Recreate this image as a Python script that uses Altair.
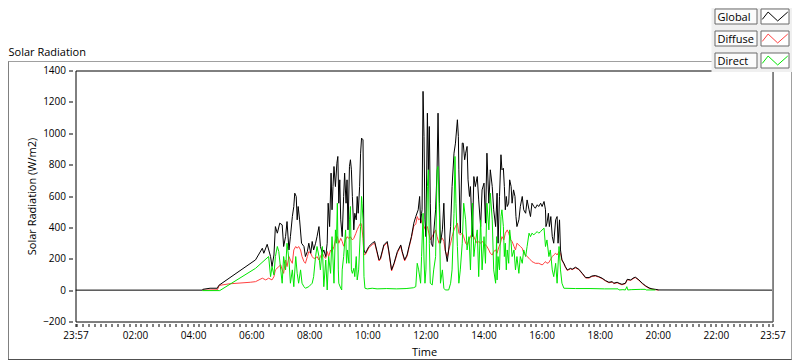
import json
import altair as alt
import pandas as pd

# ---------------- data (time in minutes after 00:00, value in W/m2) ----------------
SERIES = ["Global", "Diffuse", "Direct"]
COLORS = ["#000000", "#ff4040", "#00e600"]

GLOBAL = [(-3, 0), (259, 0), (260, 5), (275, 12), (290, 12), (293, 30), (369, 193), (383, 267), (386, 235),
          (393, 292), (400, 214), (403, 150), (407, 224), (410, 405), (414, 363), (419, 427), (424, 416),
          (427, 278), (431, 341), (434, 437), (438, 256), (441, 341), (445, 469), (448, 533), (450, 618),
          (453, 597), (455, 448), (457, 533), (460, 448), (464, 299), (469, 278), (472, 214), (476, 246),
          (479, 299), (483, 235), (486, 310), (489, 256), (493, 299), (496, 341), (500, 405), (503, 278),
          (507, 235), (510, 256), (514, 214), (517, 299), (519, 554), (522, 405), (525, 746), (527, 512),
          (529, 660), (531, 788), (534, 660), (537, 809), (539, 852), (541, 554), (543, 703), (545, 448),
          (548, 341), (551, 597), (553, 746), (556, 554), (558, 703), (560, 384), (563, 788), (565, 831),
          (567, 767), (569, 597), (572, 384), (574, 490), (577, 448), (579, 597), (581, 490), (584, 660),
          (586, 873), (588, 969), (591, 958), (593, 256), (596, 235), (603, 278), (610, 299), (615, 310),
          (620, 246), (624, 193), (627, 203), (634, 288), (641, 310), (644, 256), (650, 129), (655, 171),
          (662, 246), (669, 288), (672, 246), (677, 193), (682, 224), (686, 278), (691, 341), (696, 427),
          (700, 469), (705, 512), (708, 597), (710, 427), (712, 490), (713, 512), (715, 1267), (717, 980),
          (719, 448), (721, 341), (724, 1128), (726, 767), (728, 1043), (730, 554), (732, 299), (735, 278),
          (737, 363), (741, 512), (744, 767), (746, 1128), (749, 554), (751, 299), (755, 384), (758, 554),
          (761, 256), (765, 182), (768, 256), (772, 405), (775, 660), (779, 873), (782, 937), (786, 1086),
          (788, 980), (789, 767), (792, 363), (796, 937), (798, 937), (801, 831), (803, 873), (806, 916),
          (808, 703), (811, 597), (813, 660), (817, 341), (820, 724), (823, 660), (827, 724), (830, 575),
          (834, 405), (837, 639), (841, 682), (844, 427), (847, 873), (851, 554), (854, 767), (858, 660),
          (861, 512), (865, 405), (868, 618), (870, 299), (873, 597), (876, 863), (878, 767), (881, 777),
          (883, 660), (885, 512), (887, 597), (889, 533), (892, 554), (894, 703), (897, 660), (899, 554),
          (902, 639), (905, 597), (907, 469), (909, 405), (913, 448), (916, 533), (920, 597), (923, 512),
          (927, 490), (930, 575), (934, 512), (937, 469), (940, 554), (944, 533), (947, 522), (951, 544),
          (954, 533), (958, 554), (961, 533), (965, 565), (968, 512), (969, 405), (971, 427), (974, 490),
          (976, 405), (979, 469), (982, 341), (985, 299), (989, 448), (992, 469), (994, 299), (997, 448),
          (999, 256), (1002, 193), (1006, 171), (1009, 150), (1013, 129), (1016, 133), (1020, 139),
          (1023, 133), (1030, 146), (1037, 133), (1044, 107), (1051, 80), (1058, 80), (1064, 90), (1071, 93),
          (1078, 86), (1085, 76), (1092, 61), (1099, 50), (1106, 54), (1109, 44), (1116, 50), (1120, 44),
          (1126, 37), (1133, 44), (1137, 69), (1144, 65), (1151, 80), (1154, 82), (1161, 65), (1168, 44),
          (1175, 27), (1182, 14), (1188, 8), (1195, 5), (1202, 1), (1437, 0)]

DIFFUSE = [(259, 0), (290, 2), (294, 30), (314, 40), (358, 50), (369, 54), (383, 76), (390, 65), (396, 76),
           (403, 65), (407, 86), (410, 129), (417, 150), (421, 161), (424, 129), (427, 107), (431, 192),
           (434, 150), (438, 214), (441, 192), (445, 171), (448, 256), (452, 278), (455, 267), (458, 278),
           (462, 256), (465, 214), (469, 182), (472, 171), (476, 214), (479, 246), (483, 235), (486, 214),
           (489, 203), (493, 203), (496, 214), (500, 192), (503, 214), (507, 235), (510, 214), (514, 203),
           (517, 246), (520, 214), (524, 256), (527, 246), (531, 278), (534, 320), (538, 341), (541, 299),
           (545, 330), (548, 310), (551, 280), (555, 320), (558, 340), (562, 330), (565, 340), (569, 320),
           (572, 330), (576, 360), (579, 385), (582, 405), (586, 427), (588, 420), (591, 330), (593, 225),
           (596, 228), (603, 270), (610, 290), (615, 300), (620, 238), (624, 186), (627, 195), (634, 280),
           (641, 302), (644, 248), (650, 122), (655, 164), (662, 238), (669, 280), (672, 238), (677, 186),
           (682, 216), (686, 270), (691, 333), (696, 410), (700, 420), (703, 469), (706, 448), (710, 458),
           (713, 427), (717, 405), (720, 384), (724, 405), (727, 363), (730, 320), (734, 341), (741, 384),
           (744, 341), (748, 299), (751, 320), (755, 331), (758, 310), (761, 250), (765, 214), (768, 256),
           (772, 299), (775, 341), (779, 384), (782, 405), (786, 427), (789, 363), (792, 352), (796, 363),
           (799, 341), (803, 299), (806, 288), (810, 320), (813, 341), (817, 363), (820, 341), (823, 320),
           (827, 299), (830, 310), (834, 299), (837, 310), (841, 299), (844, 288), (847, 278), (851, 256),
           (854, 235), (858, 224), (861, 246), (865, 256), (868, 235), (872, 278), (875, 299), (878, 341),
           (882, 320), (885, 363), (889, 384), (892, 363), (896, 320), (899, 310), (903, 278), (906, 256),
           (909, 299), (913, 288), (916, 278), (920, 267), (923, 235), (927, 224), (930, 214), (934, 203),
           (937, 193), (940, 182), (944, 176), (947, 171), (954, 171), (961, 161), (965, 171), (968, 182),
           (971, 171), (975, 176), (978, 193), (982, 214), (985, 224), (989, 235), (992, 224), (996, 246),
           (999, 235), (1002, 190), (1006, 168), (1009, 147), (1013, 125), (1016, 130), (1020, 136),
           (1023, 130), (1030, 142), (1037, 130), (1044, 104), (1051, 77), (1058, 77), (1064, 87), (1071, 90),
           (1078, 83), (1085, 73), (1092, 58), (1099, 47), (1106, 51), (1109, 41), (1116, 47), (1120, 41),
           (1126, 34), (1133, 41), (1137, 66), (1144, 62), (1151, 77), (1154, 79), (1161, 62), (1168, 41),
           (1175, 24), (1182, 12), (1188, 6), (1195, 3), (1202, 0)]

DIRECT = [(259, -3), (295, -3), (369, 139), (396, 214), (400, 86), (403, 150), (407, 97), (410, 214),
          (414, 278), (417, 246), (421, 129), (424, 44), (427, 214), (431, 129), (434, 299), (438, 192),
          (441, 44), (445, 129), (448, 22), (452, 214), (455, 107), (458, 44), (462, 129), (465, 44),
          (469, 22), (472, 12), (479, 22), (486, 44), (489, 86), (493, 214), (496, 278), (500, 214),
          (503, 129), (507, 278), (510, 22), (514, 192), (517, 1), (520, 214), (524, 107), (527, 341),
          (531, 44), (534, 384), (536, 299), (538, 554), (540, 129), (541, 44), (545, 12), (547, 1),
          (548, 129), (551, 214), (555, 384), (557, 171), (559, 256), (562, 171), (563, 448), (565, 533),
          (567, 129), (569, 107), (572, 139), (574, 86), (577, 214), (579, 65), (582, 129), (586, 405),
          (588, 597), (589, 554), (591, 448), (593, 86), (595, 12), (600, 8), (610, 12), (620, 8), (640, 10),
          (660, 8), (680, 10), (695, 15), (700, 22), (703, 171), (706, 129), (710, 44), (712, 214),
          (715, 490), (717, 192), (719, 44), (721, 129), (724, 660), (726, 767), (728, 299), (730, 44),
          (734, 33), (737, 129), (741, 214), (744, 767), (746, 788), (749, 469), (751, 44), (755, 129),
          (758, 12), (761, 1), (768, 1), (772, 44), (775, 129), (779, 490), (781, 852), (783, 554), (786, 278),
          (789, 44), (792, 129), (796, 299), (799, 554), (803, 448), (806, 256), (810, 341), (813, 129),
          (817, 554), (820, 214), (823, 299), (827, 384), (830, 86), (834, 448), (837, 129), (841, 341),
          (844, 171), (847, 554), (851, 384), (854, 618), (858, 448), (861, 129), (865, 44), (867, 341),
          (868, 65), (870, 214), (873, 129), (876, 469), (878, 512), (881, 405), (883, 214), (885, 299),
          (887, 129), (889, 256), (892, 171), (894, 384), (897, 299), (899, 214), (903, 256), (906, 129),
          (909, 214), (913, 107), (916, 214), (920, 171), (923, 256), (927, 214), (930, 278), (934, 363),
          (937, 341), (940, 363), (944, 352), (947, 363), (951, 373), (954, 363), (958, 373), (961, 384),
          (965, 395), (968, 278), (971, 320), (975, 214), (978, 256), (982, 129), (985, 86), (989, 171),
          (992, 44), (996, 278), (999, 129), (1002, 44), (1006, 12), (1030, 10), (1060, 10), (1090, 8),
          (1118, 8), (1120, 1), (1128, 3), (1133, 1), (1136, 22), (1138, 1), (1145, 3), (1165, 5), (1174, 5),
          (1176, 1), (1195, 1)]

X_LABEL_POS = [-3, 120, 240, 360, 480, 600, 720, 840, 960, 1080, 1200, 1320, 1437]
X_LABELS = ["23:57", "02:00", "04:00", "06:00", "08:00", "10:00", "12:00", "14:00", "16:00",
            "18:00", "20:00", "22:00", "23:57"]
Y_TICKS = [-200, 0, 200, 400, 600, 800, 1000, 1200, 1400]

# ---------------- layout / style ----------------
W, H = 697, 251
FONT = "Open Sans"
x_scale = alt.Scale(domain=[-3, 1437], nice=False, zero=False)
y_scale = alt.Scale(domain=[-200, 1400], nice=False, zero=False)
tick_vals = [-3] + list(range(0, 1437, 12)) + [1437]
label_expr = ("indexof(%s, datum.value) >= 0 ? %s[indexof(%s, datum.value)] : ''"
              % (json.dumps(X_LABEL_POS), json.dumps(X_LABELS), json.dumps(X_LABEL_POS)))

x_axis = alt.Axis(values=tick_vals, labelExpr=label_expr, title="Time", tickSize=3, offset=2,
                  domain=False, grid=False, labelPadding=4, labelOverlap=False, labelFlush=False,
                  labelFont=FONT, labelFontSize=10, labelColor="#000000", tickColor="#000000",
                  titleFont=FONT, titleFontSize=11, titleFontWeight="normal", titleColor="#000000",
                  titlePadding=6)
y_axis = alt.Axis(values=Y_TICKS, format="d", title="Solar Radiation (W/m2)", tickSize=4, offset=3,
                  domain=False, grid=False, labelPadding=3, labelFont=FONT, labelFontSize=10,
                  labelColor="#000000", tickColor="#000000", titleFont=FONT, titleFontSize=11,
                  titleFontWeight="normal", titleColor="#000000", titlePadding=5)


def line_layer(name, color, pts):
    df = pd.DataFrame(pts, columns=["t", "v"])
    df["series"] = name
    return alt.Chart(df).mark_line(color=color, strokeWidth=1, clip=True).encode(
        x=alt.X("t:Q", scale=x_scale, axis=x_axis),
        y=alt.Y("v:Q", scale=y_scale, axis=y_axis),
    )


one = pd.DataFrame({"k": [0]})


def rect(x, x2, y, y2, fill, stroke=None):
    kw = dict(fill=fill, clip=False)
    if stroke:
        kw.update(stroke=stroke, strokeWidth=1)
    else:
        kw.update(strokeWidth=0)
    return alt.Chart(one).mark_rect(**kw).encode(
        x=alt.value(x), x2=alt.value(x2), y=alt.value(y), y2=alt.value(y2))


def rule(x, x2, y, y2, color):
    return alt.Chart(one).mark_rule(color=color, strokeWidth=1, clip=False).encode(
        x=alt.value(x), x2=alt.value(x2), y=alt.value(y), y2=alt.value(y2))


layers = []
# outer panel frame
layers.append(rule(-67.5, 640, -9, -9, "#a0a0a0"))
layers.append(rule(-67, -67, -9, 289, "#808080"))
layers.append(rule(-67.5, 716.5, 289, 289, "#505050"))
layers.append(rule(716, 716, 1, 289, "#a0a0a0"))

# data lines
layers.append(line_layer("Diffuse", COLORS[1], DIFFUSE))
layers.append(line_layer("Global", COLORS[0], GLOBAL))
layers.append(line_layer("Direct", COLORS[2], DIRECT))

# right edge of the plot frame (grey)
layers.append(rule(W, W, 0, H, "#909090"))

# title
layers.append(alt.Chart(pd.DataFrame({"s": ["Solar Radiation"]})).mark_text(
    align="left", baseline="alphabetic", font=FONT, fontSize=11, color="#000000", clip=False
).encode(x=alt.value(-67), y=alt.value(-15), text="s:N"))

# legend (LabVIEW style plot legend)
layers.append(rect(636, 720, -63, 1.5, "#f0f0f0"))
row_tops = [-61.5, -39.5, -17.5]
zig = "M-1,0.23L-0.54,-0.35L0.21,0.35L1,-0.35"
for name, color, top in zip(SERIES, COLORS, row_tops):
    d = pd.DataFrame({"series": [name]})
    layers.append(rect(639.5, 681.5, top, top + 15, "#fbfbfb", "#6a6a6a"))
    layers.append(rect(685.5, 713.5, top, top + 15, "#ffffff", "#6a6a6a"))
    layers.append(alt.Chart(d).mark_text(
        align="left", baseline="alphabetic", font=FONT, fontSize=11, color="#000000", clip=False
    ).encode(x=alt.value(642), y=alt.value(top + 12), text="series:N"))
    layers.append(alt.Chart(d).mark_point(
        shape=zig, filled=False, size=650, strokeWidth=1, color=color, opacity=1, clip=False
    ).encode(x=alt.value(699.5), y=alt.value(top + 7.5)))

chart = alt.layer(*layers).properties(
    width=W, height=H,
    autosize=alt.AutoSizeParams(type="none"),
    padding={"left": 67.5, "top": 62.5, "right": 19.5, "bottom": 39.5},
    background="#ffffff",
).configure_view(stroke="#000000", strokeWidth=1)

chart.save("out.html", embed_options={"renderer": "svg", "actions": False})
